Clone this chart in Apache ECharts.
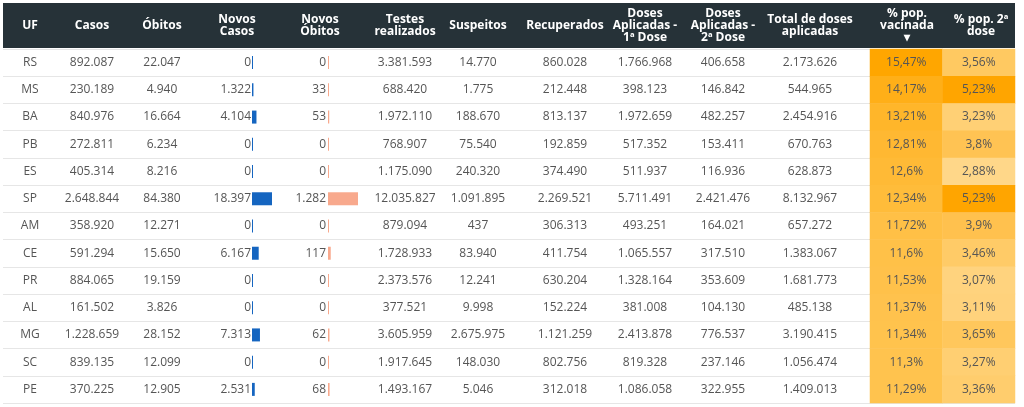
<!DOCTYPE html>
<html><head><meta charset="utf-8">
<script src="https://cdn.jsdelivr.net/npm/echarts@6/dist/echarts.min.js"></script>
<style>html,body{margin:0;padding:0;background:#fff}#c{width:1024px;height:407px}</style>
</head><body><div id="c"></div>
<script>
const headers=['UF','Casos','Óbitos','Novos\nCasos','Novos\nÓbitos','Testes\nrealizados','Suspeitos','Recuperados','Doses\nAplicadas -\n1ª Dose','Doses\nAplicadas -\n2ª Dose','Total de doses\naplicadas','% pop.\nvacinada\n▾','% pop. 2ª\ndose'];
const uf=['RS','MS','BA','PB','ES','SP','AM','CE','PR','AL','MG','SC','PE'];
const casos=['892.087','230.189','840.976','272.811','405.314','2.648.844','358.920','591.294','884.065','161.502','1.228.659','839.135','370.225'];
const obitos=['22.047','4.940','16.664','6.234','8.216','84.380','12.271','15.650','19.159','3.826','28.152','12.099','12.905'];
const novosCasos=[0,1322,4104,0,0,18397,0,6167,0,0,7313,0,2531];
const novosObitos=[0,33,53,0,0,1282,0,117,0,0,62,0,68];
const testes=['3.381.593','688.420','1.972.110','768.907','1.175.090','12.035.827','879.094','1.728.933','2.373.576','377.521','3.605.959','1.917.645','1.493.167'];
const suspeitos=['14.770','1.775','188.670','75.540','240.320','1.091.895','437','83.940','12.241','9.998','2.675.975','148.030','5.046'];
const recuperados=['860.028','212.448','813.137','192.859','374.490','2.269.521','306.313','411.754','630.204','152.224','1.121.259','802.756','312.018'];
const dose1=['1.766.968','398.123','1.972.659','517.352','511.937','5.711.491','493.251','1.065.557','1.328.164','381.008','2.413.878','819.328','1.086.058'];
const dose2=['406.658','146.842','482.257','153.411','116.936','2.421.476','164.021','317.510','353.609','104.130','776.537','237.146','322.955'];
const totalDoses=['2.173.626','544.965','2.454.916','670.763','628.873','8.132.967','657.272','1.383.067','1.681.773','485.138','3.190.415','1.056.474','1.409.013'];
const pctVac=[15.47,14.17,13.21,12.81,12.6,12.34,11.72,11.6,11.53,11.37,11.34,11.3,11.29];
const pct2=[3.56,5.23,3.23,3.8,2.88,5.23,3.9,3.46,3.07,3.11,3.65,3.27,3.36];

const fmtN=v=>String(v).replace(/\B(?=(\d{3})+(?!\d))/g,'.');
const fmtP=v=>String(v).replace('.',',')+'%';
const TOP=49,H=354,F='Open Sans';
// column centers (layout)
const cx=[30,92,162,null,null,405,478,565,645,723,810,907,981];
const hx=[30,92,162,237,320,405,478,565,645,723,810,907,981];
const textCols=[[0,uf],[1,casos],[2,obitos],[5,testes],[6,suspeitos],[7,recuperados],[8,dose1],[9,dose2],[10,totalDoses]];

const chart=echarts.init(document.getElementById('c'));
const catY=(gi)=>({type:'category',gridIndex:gi,data:uf,inverse:true,show:gi===0,axisLine:{show:false},axisTick:{show:false},axisLabel:{show:false},splitLine:{show:gi===0,lineStyle:{color:'#e6e6e6'}}});
chart.setOption({
  animation:false,
  grid:[
    {left:3,right:9,top:TOP,height:H},
    {left:252,width:20,top:TOP,height:H},
    {left:328,width:30,top:TOP,height:H},
    {left:870,width:145,top:TOP,height:H}
  ],
  xAxis:[
    {type:'value',gridIndex:0,min:3,max:1015,show:false},
    {type:'value',gridIndex:1,min:0,max:18397,show:false},
    {type:'value',gridIndex:2,min:0,max:1282,show:false},
    {type:'category',gridIndex:3,data:['vac','d2'],show:false}
  ],
  yAxis:[catY(0),catY(1),catY(2),catY(3)],
  visualMap:[
    {show:false,seriesIndex:3,dimension:2,min:11.29,max:15.47,inRange:{color:['#ffc34e','#ffa600']}},
    {show:false,seriesIndex:4,dimension:2,min:2.88,max:5.23,inRange:{color:['#ffd789','#ffa500']}}
  ],
  graphic:[
    {type:'rect',shape:{x:3,y:3,width:1012,height:45},style:{fill:'#263238'},z:10},
    ...headers.map((h,i)=>({type:'text',x:hx[i],y:26,z:11,style:{text:h,fill:'#fff',font:'bold 12px "'+F+'"',align:'center',verticalAlign:'middle',lineHeight:12}}))
  ],
  series:[
    {type:'custom',xAxisIndex:0,yAxisIndex:0,data:uf.map((u,i)=>[i]),
     renderItem:(p,api)=>{const i=api.value(0);const y=api.coord([3,i])[1];const ch=[];
       textCols.forEach(([c,arr])=>ch.push({type:'text',style:{text:arr[i],x:api.coord([cx[c],i])[0],y:y,align:'center',verticalAlign:'middle',fill:'#555',font:'12px "'+F+'"'}}));
       ch.push({type:'text',style:{text:fmtN(novosCasos[i]),x:api.coord([251,i])[0],y:y,align:'right',verticalAlign:'middle',fill:'#555',font:'12px "'+F+'"'}});
       ch.push({type:'text',style:{text:fmtN(novosObitos[i]),x:api.coord([326,i])[0],y:y,align:'right',verticalAlign:'middle',fill:'#555',font:'12px "'+F+'"'}});
       return {type:'group',children:ch};}},
    {type:'bar',xAxisIndex:1,yAxisIndex:1,data:novosCasos,barWidth:13,barMinHeight:1,itemStyle:{color:'#1565c0'}},
    {type:'bar',xAxisIndex:2,yAxisIndex:2,data:novosObitos,barWidth:13,barMinHeight:1,itemStyle:{color:'#f8a98d'}},
    {type:'heatmap',xAxisIndex:3,yAxisIndex:3,data:pctVac.map((v,i)=>[0,i,v]),label:{show:true,formatter:p=>fmtP(p.value[2]),color:'#555',fontFamily:F,fontSize:12}},
    {type:'heatmap',xAxisIndex:3,yAxisIndex:3,data:pct2.map((v,i)=>[1,i,v]),label:{show:true,formatter:p=>fmtP(p.value[2]),color:'#555',fontFamily:F,fontSize:12}}
  ]
});
</script></body></html>
